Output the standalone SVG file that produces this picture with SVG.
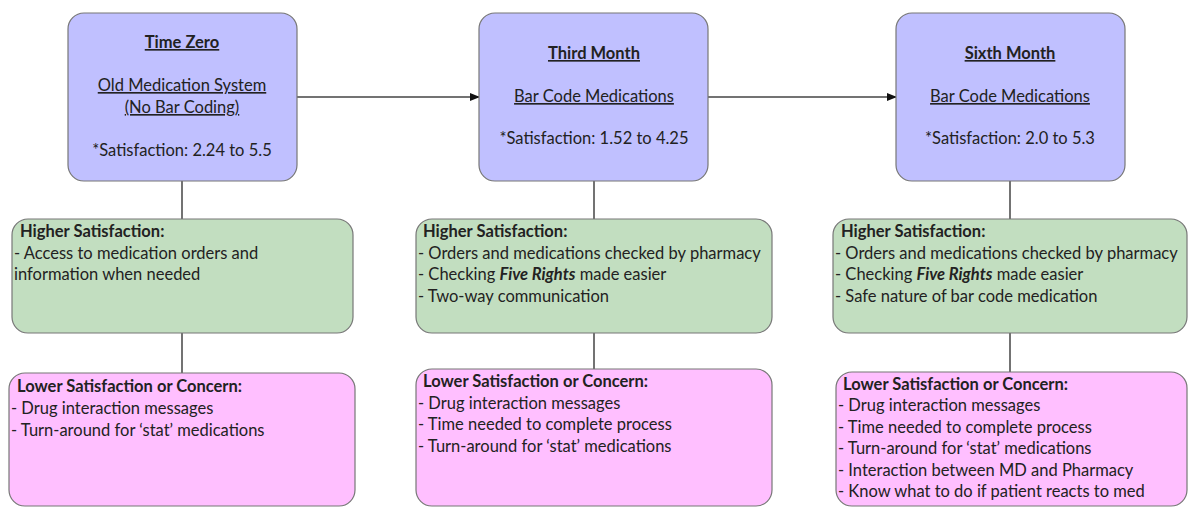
<svg xmlns="http://www.w3.org/2000/svg" width="1188" height="508" viewBox="0 0 1188 508">
  <defs>
    <marker id="arrow" markerWidth="10" markerHeight="10" refX="9" refY="5" orient="auto" markerUnits="userSpaceOnUse">
      <path d="M0,1 L10,5 L0,9 Z" fill="#111"/>
    </marker>
    <style>
      text { font-family: Lato, "Liberation Sans", sans-serif; font-size: 16.5px; fill: #222; }
      .stage { fill: #c0c0ff; stroke: #777; stroke-width: 1.2; }
      .high { fill: #c2dec0; stroke: #777; stroke-width: 1.2; }
      .low { fill: #ffbfff; stroke: #777; stroke-width: 1.2; }
      .ttl { font-weight: bold; text-decoration: underline; text-anchor: middle; }
      .sub { text-decoration: underline; text-anchor: middle; }
      .mid { text-anchor: middle; }
      .hd { font-weight: bold; }
      .link { stroke: #444; stroke-width: 1.5; fill: none; }
    </style>
  </defs>
  <rect width="1188" height="508" fill="#fff"/>

  <!-- connectors -->
  <g id="connectors">
    <line class="link" x1="297" y1="97" x2="479" y2="97" marker-end="url(#arrow)"/>
    <line class="link" x1="708" y1="97" x2="896" y2="97" marker-end="url(#arrow)"/>
    <line class="link" x1="182" y1="181" x2="182" y2="219"/>
    <line class="link" x1="182" y1="333" x2="182" y2="373"/>
    <line class="link" x1="594" y1="181" x2="594" y2="219"/>
    <line class="link" x1="594" y1="333" x2="594" y2="369"/>
    <line class="link" x1="1010" y1="181" x2="1010" y2="219"/>
    <line class="link" x1="1010" y1="333" x2="1010" y2="372"/>
  </g>

  <!-- stage: time zero -->
  <g id="time-zero">
    <rect class="stage" x="68" y="13" width="229" height="168" rx="16"/>
    <text class="ttl" x="182" y="48">Time Zero</text>
    <text class="sub" x="182" y="91">Old Medication System</text>
    <text class="sub" x="182" y="113">(No Bar Coding)</text>
    <text class="mid" x="182" y="156">*Satisfaction: 2.24 to 5.5</text>
  </g>

  <!-- stage: third month -->
  <g id="third-month">
    <rect class="stage" x="479" y="13" width="229" height="168" rx="16"/>
    <text class="ttl" x="594" y="59">Third Month</text>
    <text class="sub" x="594" y="102"> Bar Code Medications</text>
    <text class="mid" x="594" y="144">*Satisfaction: 1.52 to 4.25</text>
  </g>

  <!-- stage: sixth month -->
  <g id="sixth-month">
    <rect class="stage" x="896" y="13" width="229" height="168" rx="16"/>
    <text class="ttl" x="1010" y="59">Sixth Month</text>
    <text class="sub" x="1010" y="102"> Bar Code Medications</text>
    <text class="mid" x="1010" y="144">*Satisfaction: 2.0 to 5.3</text>
  </g>

  <!-- higher satisfaction boxes -->
  <g id="high-zero">
    <rect class="high" x="12" y="219" width="341" height="114" rx="16"/>
    <text class="hd" x="20" y="237">Higher Satisfaction:</text>
    <text x="14" y="259">- Access to medication orders and</text>
    <text x="14" y="280">information when needed</text>
  </g>
  <g id="high-third">
    <rect class="high" x="416" y="219" width="356" height="114" rx="16"/>
    <text class="hd" x="423" y="237">Higher Satisfaction:</text>
    <text x="418" y="259">- Orders and medications checked by pharmacy</text>
    <text x="418" y="280">- Checking <tspan font-weight="bold" font-style="italic">Five Rights</tspan> made easier</text>
    <text x="418" y="302">- Two-way communication</text>
  </g>
  <g id="high-sixth">
    <rect class="high" x="833" y="219" width="354" height="114" rx="16"/>
    <text class="hd" x="841" y="237">Higher Satisfaction:</text>
    <text x="835" y="259">- Orders and medications checked by pharmacy</text>
    <text x="835" y="280">- Checking <tspan font-weight="bold" font-style="italic">Five Rights</tspan> made easier</text>
    <text x="835" y="302">- Safe nature of bar code medication</text>
  </g>

  <!-- lower satisfaction boxes -->
  <g id="low-zero">
    <rect class="low" x="9" y="373" width="346" height="133" rx="16"/>
    <text class="hd" x="17" y="392">Lower Satisfaction or Concern:</text>
    <text x="11" y="414">- Drug interaction messages</text>
    <text x="11" y="436">- Turn-around for ‘stat’ medications</text>
  </g>
  <g id="low-third">
    <rect class="low" x="416" y="369" width="356" height="137" rx="16"/>
    <text class="hd" x="423" y="387">Lower Satisfaction or Concern:</text>
    <text x="418" y="409">- Drug interaction messages</text>
    <text x="418" y="430">- Time needed to complete process</text>
    <text x="418" y="452">- Turn-around for ‘stat’ medications</text>
  </g>
  <g id="low-sixth">
    <rect class="low" x="836" y="372" width="351" height="134" rx="16"/>
    <text class="hd" x="843" y="390">Lower Satisfaction or Concern:</text>
    <text x="838" y="411">- Drug interaction messages</text>
    <text x="838" y="433">- Time needed to complete process</text>
    <text x="838" y="454">- Turn-around for ‘stat’ medications</text>
    <text x="838" y="476">- Interaction between MD and Pharmacy</text>
    <text x="838" y="497">- Know what to do if patient reacts to med</text>
  </g>
</svg>
